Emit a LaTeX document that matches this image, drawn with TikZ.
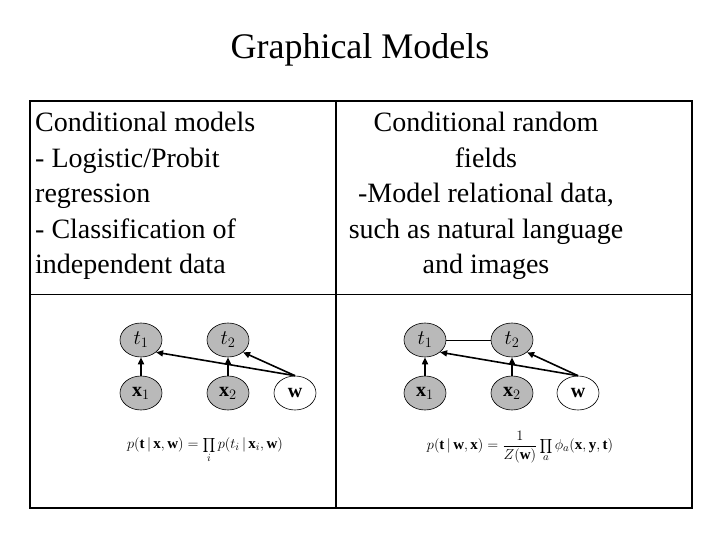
\documentclass[tikz,border=0pt]{standalone}
\usepackage{fontspec}
\setmainfont{Liberation Serif}
\usetikzlibrary{shapes.geometric,arrows.meta}
\begin{document}
\begin{tikzpicture}[x=1pt,y=-1pt,
  gnode/.style={ellipse,draw,line width=0.6pt,minimum width=42pt,minimum height=34pt,inner sep=0pt,font=\fontsize{20}{22}\selectfont},
  obs/.style={gnode,fill=gray!55},
  arr/.style={-{Triangle[length=7pt,width=6pt]},line width=1.6pt},
  txt/.style={font=\fontsize{28}{35.5}\selectfont,inner sep=0pt}]
\useasboundingbox (0,0) rectangle (720,540);
\node[font=\fontsize{36}{40}\selectfont] (title) at (360,50) {Graphical Models};
\draw[line width=1.5pt] (30,101) rectangle (692,508);
\draw[line width=2.5pt] (692,101) -- (692,508);
\draw[line width=1.5pt] (336,101) -- (336,508);
\draw[line width=1pt] (30,294) -- (692,294);
\node[txt,align=left,anchor=north west] (lt) at (35,112) {Conditional models\\- Logistic/Probit\\regression\\- Classification of\\independent data};
\node[txt,align=center,anchor=north] (rt) at (486,112) {Conditional random\\fields\\-Model relational data,\\such as natural language\\and images};
% left graph
\node[obs] (lt1) at (141,340) {$t_1$};
\node[obs] (lt2) at (228,340) {$t_2$};
\node[obs] (lx1) at (141,393) {$\mathbf{x}_1$};
\node[obs] (lx2) at (228,393) {$\mathbf{x}_2$};
\node[gnode,fill=white] (lw) at (295,393) {$\mathbf{w}$};
\draw[arr] (lx1) -- (lt1);
\draw[arr] (lx2) -- (lt2);
\draw[arr] (lw.north) -- (lt1.south east);
\draw[arr] (lw.north) -- (lt2.south east);
\node[font=\fontsize{15}{18}\selectfont] (leq) at (205,450) {$\displaystyle p(\mathbf{t}\,|\,\mathbf{x},\mathbf{w})=\prod_i p(t_i\,|\,\mathbf{x}_i,\mathbf{w})$};
% right graph
\node[obs] (rt1) at (425,340) {$t_1$};
\node[obs] (rt2) at (512,340) {$t_2$};
\node[obs] (rx1) at (425,393) {$\mathbf{x}_1$};
\node[obs] (rx2) at (512,393) {$\mathbf{x}_2$};
\node[gnode,fill=white] (rw) at (578,393) {$\mathbf{w}$};
\draw[line width=0.6pt] (rt1) -- (rt2);
\draw[arr] (rx1) -- (rt1);
\draw[arr] (rx2) -- (rt2);
\draw[arr] (rw.north) -- (rt1.south east);
\draw[arr] (rw.north) -- (rt2.south east);
\node[font=\fontsize{15}{18}\selectfont] (req) at (520,447) {$\displaystyle p(\mathbf{t}\,|\,\mathbf{w},\mathbf{x})=\frac{1}{Z(\mathbf{w})}\prod_a \phi_a(\mathbf{x},\mathbf{y},\mathbf{t})$};
\end{tikzpicture}
\end{document}
